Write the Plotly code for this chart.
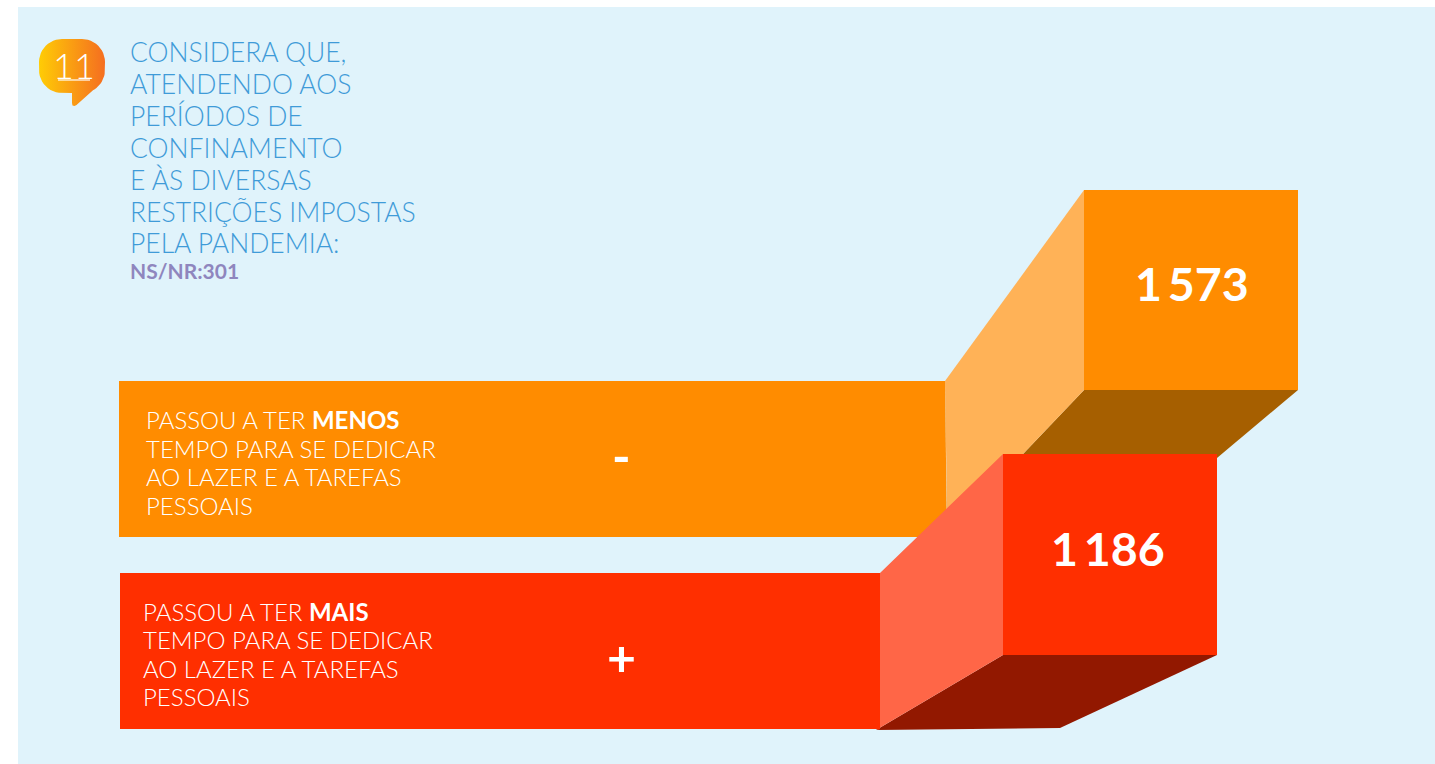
import math
import plotly.graph_objects as go

# Survey answers
categories = ["MENOS", "MAIS"]
values = [1573, 1186]
signs = ["-", "+"]
question_lines = [
    "CONSIDERA QUE,", "ATENDENDO AOS", "PERÍODOS DE", "CONFINAMENTO",
    "E ÀS DIVERSAS", "RESTRIÇÕES IMPOSTAS", "PELA PANDEMIA:",
]
no_answer_label = "NS/NR:301"
question_number = "11"

W, H = 1435, 764
FONT = "Lato"
PANEL = "#E0F3FB"
BLUE = "#3F9BD8"
PURPLE = "#8F86BE"


def right_edge(value):
    """Horizontal position of a block's right side for a given count."""
    return 1298 - (1573 - value) * 81 / 387


# Drawing parameters of each 3D bar
bars = [
    dict(top=190, block_h=200, strip=(119, 945, 381, 537), strip_end_low=947,
         base=(1217, 458, 1023, 454), side_low=(947, 510),
         front="#FF8C00", light="#FFB257", dark="#A65F00",
         text_x=145, text_y=419.5, sign_y=456, sign_x=621.5, value_dx=1),
    dict(top=454, block_h=201, strip=(120, 880, 573, 729), strip_end_low=880,
         base=(1060, 728, 876, 730), side_low=(880, 729),
         front="#FF2F00", light="#FF6647", dark="#921800",
         text_x=142, text_y=611, sign_y=657, sign_x=621.5, value_dx=-2),
]
BLOCK_W = 214
LINE_GAP = 28.6


def polygon(xs, ys, color):
    return go.Scatter(x=xs, y=ys, mode="lines", fill="toself", fillcolor=color,
                      line=dict(width=0), hoverinfo="skip", showlegend=False)


def rounded_bubble(x0, x1, y0, y1, r, tail_start_x=93):
    """Speech bubble outline: rounded rectangle with a tail under the middle."""
    xs, ys = [], []
    # the bottom-right arc stops where the tail leaves the outline
    tail_angle = math.degrees(math.acos((tail_start_x - (x1 - r)) / r))
    corners = [(x1 - r, y0 + r, -90, 90), (x1 - r, y1 - r, 0, tail_angle),
               (x0 + r, y1 - r, 90, 90), (x0 + r, y0 + r, 180, 90)]
    for n, (cx, cy, start, sweep) in enumerate(corners):
        for i in range(13):
            a = math.radians(start + sweep * i / 12)
            xs.append(cx + r * math.cos(a))
            ys.append(cy + r * math.sin(a))
        if n == 1:
            xs += [76.5, 74.5, 72.5, 72, 72]
            ys += [105, 106, 105.5, 103, y1]
    xs.append(xs[0])
    ys.append(ys[0])
    return xs, ys


fig = go.Figure()
annotations = []


def label(x, y, text, size, color="white", weight=300, anchor="left"):
    annotations.append(dict(
        x=x, y=y, xref="x", yref="y", text=text, showarrow=False, xanchor=anchor,
        yanchor="middle", borderpad=0,
        font=dict(family=FONT, size=size, color=color, weight=weight),
    ))


for value, name, sign, b in zip(values, categories, signs, bars):
    right = right_edge(value)
    left = right - BLOCK_W
    top, bottom = b["top"], b["top"] + b["block_h"]
    x0, x1, y0, y1 = b["strip"]
    # underside, receding side, front strip, end face
    fig.add_trace(polygon([left, right, b["base"][0], b["base"][2], left],
                          [bottom, bottom, b["base"][1], b["base"][3], bottom], b["dark"]))
    fig.add_trace(polygon([x1, left, left, b["base"][2], b["side_low"][0], x1],
                          [y0, top, bottom, b["base"][3], b["side_low"][1], y0], b["light"]))
    fig.add_trace(polygon([x0, x1, b["strip_end_low"], x0, x0],
                          [y0, y0, y1, y1, y0], b["front"]))
    fig.add_trace(polygon([left, right, right, left, left],
                          [top, top, bottom, bottom, top], b["front"]))

    label((left + right) / 2 + b["value_dx"], (top + bottom) / 2 - 7,
          f"{value:,}".replace(",", "\u2009"), 46.5, weight=700, anchor="center")
    label(b["sign_x"], b["sign_y"], sign, 50, weight=700, anchor="center")
    rows = [f"PASSOU A TER <b>{name}</b>", "TEMPO PARA SE DEDICAR",
            "AO LAZER E A TAREFAS", "PESSOAIS"]
    for i, row in enumerate(rows):
        label(b["text_x"], b["text_y"] + i * LINE_GAP, row, 24)

# Question number badge
bx, by = rounded_bubble(39, 105, 39, 93, 23)
fig.add_trace(go.Scatter(
    x=bx, y=by, mode="lines", fill="toself", line=dict(width=0), hoverinfo="skip",
    showlegend=False,
    fillgradient=dict(type="horizontal", colorscale=[[0, "#FFCC05"], [1, "#F56E20"]]),
))
label(73.5, 65, question_number, 36, weight=300, anchor="center")

for i, row in enumerate(question_lines):
    label(128.5, 52 + i * 31.9, row, 26.5, color=BLUE)
label(129, 270, no_answer_label, 21, color=PURPLE, weight=700)

fig.update_layout(
    width=W, height=H,
    margin=dict(l=0, r=0, t=0, b=0),
    paper_bgcolor="white", plot_bgcolor="white",
    xaxis=dict(range=[0, W], visible=False, fixedrange=True),
    yaxis=dict(range=[H, 0], visible=False, fixedrange=True),
    annotations=annotations,
    shapes=[
        dict(type="rect", x0=18, x1=W, y0=7, y1=H, xref="x", yref="y",
             fillcolor=PANEL, line=dict(width=0), layer="below"),
        dict(type="line", x0=58, x1=90, y0=80, y1=80, xref="x", yref="y",
             line=dict(color="white", width=1.2)),
    ],
)

fig.write_html("out.html", config={"displayModeBar": False})
